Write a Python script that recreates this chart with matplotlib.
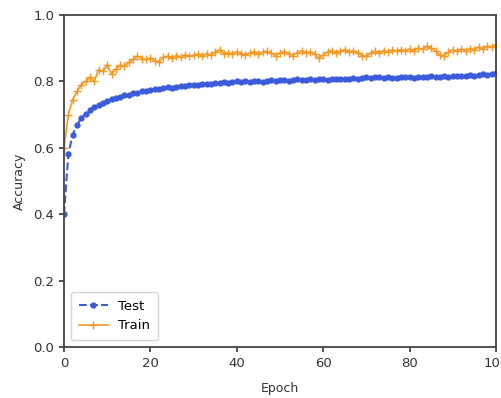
import numpy as np
import matplotlib
matplotlib.use('Agg')
import matplotlib.pyplot as plt

# Данные: точность на тесте и на обучении по эпохам
epochs = list(range(0, 101))

test_acc = [
    0.400, 0.580, 0.640, 0.668, 0.690, 0.703, 0.713, 0.722, 0.730, 0.736,
    0.742, 0.746, 0.751, 0.754, 0.758, 0.760, 0.764, 0.766, 0.770, 0.771,
    0.775, 0.777, 0.776, 0.780, 0.782, 0.781, 0.784, 0.786, 0.785, 0.788,
    0.790, 0.788, 0.791, 0.793, 0.792, 0.795, 0.794, 0.797, 0.796, 0.798,
    0.800, 0.798, 0.801, 0.799, 0.802, 0.800, 0.798, 0.802, 0.803, 0.800,
    0.803, 0.805, 0.802, 0.804, 0.806, 0.803, 0.805, 0.807, 0.804, 0.806,
    0.808, 0.805, 0.807, 0.806, 0.808, 0.807, 0.806, 0.809, 0.808, 0.810,
    0.813, 0.809, 0.812, 0.814, 0.811, 0.813, 0.810, 0.811, 0.813, 0.812,
    0.813, 0.811, 0.814, 0.813, 0.812, 0.815, 0.813, 0.814, 0.816, 0.814,
    0.815, 0.817, 0.815, 0.816, 0.818, 0.817, 0.819, 0.822, 0.819, 0.823,
    0.825,
]

train_acc = [
    0.600, 0.700, 0.745, 0.770, 0.790, 0.800, 0.812, 0.800, 0.835, 0.830,
    0.850, 0.822, 0.838, 0.848, 0.845, 0.857, 0.866, 0.877, 0.868, 0.866,
    0.870, 0.862, 0.858, 0.872, 0.876, 0.870, 0.878, 0.874, 0.880, 0.876,
    0.879, 0.882, 0.877, 0.883, 0.880, 0.888, 0.895, 0.884, 0.887, 0.882,
    0.889, 0.884, 0.880, 0.886, 0.890, 0.884, 0.888, 0.891, 0.885, 0.877,
    0.886, 0.890, 0.884, 0.878, 0.887, 0.892, 0.886, 0.889, 0.882, 0.870,
    0.880, 0.889, 0.893, 0.887, 0.891, 0.896, 0.888, 0.892, 0.886, 0.878,
    0.876, 0.886, 0.891, 0.887, 0.893, 0.889, 0.895, 0.891, 0.896, 0.892,
    0.898, 0.893, 0.900, 0.897, 0.906, 0.900, 0.891, 0.880, 0.878, 0.889,
    0.895, 0.891, 0.898, 0.893, 0.899, 0.896, 0.903, 0.899, 0.906, 0.904,
    0.911,
]

x_ticks = [0, 20, 40, 60, 80, 100]
y_ticks = [0.0, 0.2, 0.4, 0.6, 0.8, 1.0]

plt.rcParams['font.size'] = 9

fig = plt.figure(figsize=(5.02, 3.98), dpi=100)
ax = fig.add_axes([64 / 502, 51 / 398, 432 / 502, 332 / 398])

ax.plot(epochs, test_acc, linestyle='--', marker='.', markersize=7,
        linewidth=1.5, color='#3b5bdb', label='Test')
ax.plot(epochs, train_acc, linestyle='-', marker='+', markersize=6,
        linewidth=1.2, color='#f39a26', label='Train')

ax.set_xlim(0, 100)
ax.set_ylim(0, 1.0)
ax.set_xticks(x_ticks)
ax.set_yticks(y_ticks)
ax.set_xlabel('Epoch', fontsize=9, color='#333333', labelpad=9)
ax.set_ylabel('Accuracy', fontsize=9, color='#333333', labelpad=5)
ax.tick_params(labelsize=9.5, colors='#333333', width=1.2)
for s in ax.spines.values():
    s.set_linewidth(1.3)
    s.set_color('#444444')

ax.legend(loc='lower left', fontsize=9.5, handlelength=2.2, borderpad=0.6)

plt.savefig('out.png', dpi=100)
